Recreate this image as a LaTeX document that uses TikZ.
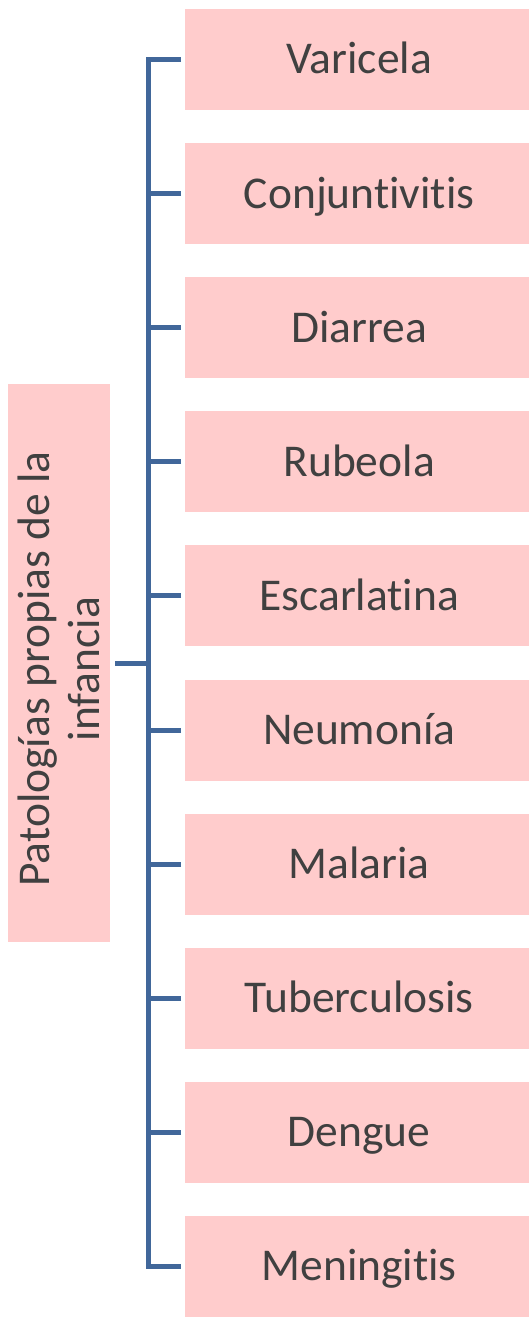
\documentclass[tikz,border=0pt]{standalone}
\usepackage{fontspec}
\setmainfont{Carlito}[Ligatures=NoCommon]
\definecolor{boxpink}{HTML}{FFCCCC}
\definecolor{lineblue}{HTML}{41679A}
\definecolor{txtgray}{HTML}{404040}
\begin{document}
\begin{tikzpicture}[x=1pt,y=-1pt,
  leaf/.style={fill=boxpink, draw=none, minimum width=344pt, minimum height=101pt, inner sep=0pt,
    text=txtgray, font=\fontsize{45.5}{50}\selectfont, anchor=west},
  leaftext/.style={text=txtgray, font=\fontsize{45.5}{50}\selectfont, text height=29pt, text depth=0pt, inner sep=0pt},
  root/.style={fill=boxpink, draw=none, minimum width=102pt, minimum height=558pt, inner sep=0pt},
  conn/.style={draw=lineblue, line width=5pt}]
\useasboundingbox (0,0) rectangle (529,1319);
\node[root] (r) at (59,663) {};
\node[text=txtgray, font=\fontsize{45.5}{50}\selectfont, align=center, rotate=90, inner sep=0pt] (rt) at ([yshift=-6pt]r.center) {Patologías propias de la\\infancia};
\foreach \t [count=\i] in {Varicela,Conjuntivitis,Diarrea,Rubeola,Escarlatina,Neumonía,Malaria,Tuberculosis,Dengue,Meningitis}{
  \node[leaf] (b\i) at (185,{59.5+(\i-1)*134.1}) {};
  \node[leaftext] (t\i) at ([xshift=2pt]b\i.center) {\t};
}
\draw[conn] (r.east -| 115,0) -- (r.east -| 148,0);
\draw[conn] ([xshift=-4pt]b1.west) -- (b1.west -| 148,0) -- (b10.west -| 148,0) -- ([xshift=-4pt]b10.west);
\foreach \i in {2,...,9}{
  \draw[conn] ([xshift=-4pt]b\i.west) -- (b\i.west -| 148,0);
}
\end{tikzpicture}
\end{document}
